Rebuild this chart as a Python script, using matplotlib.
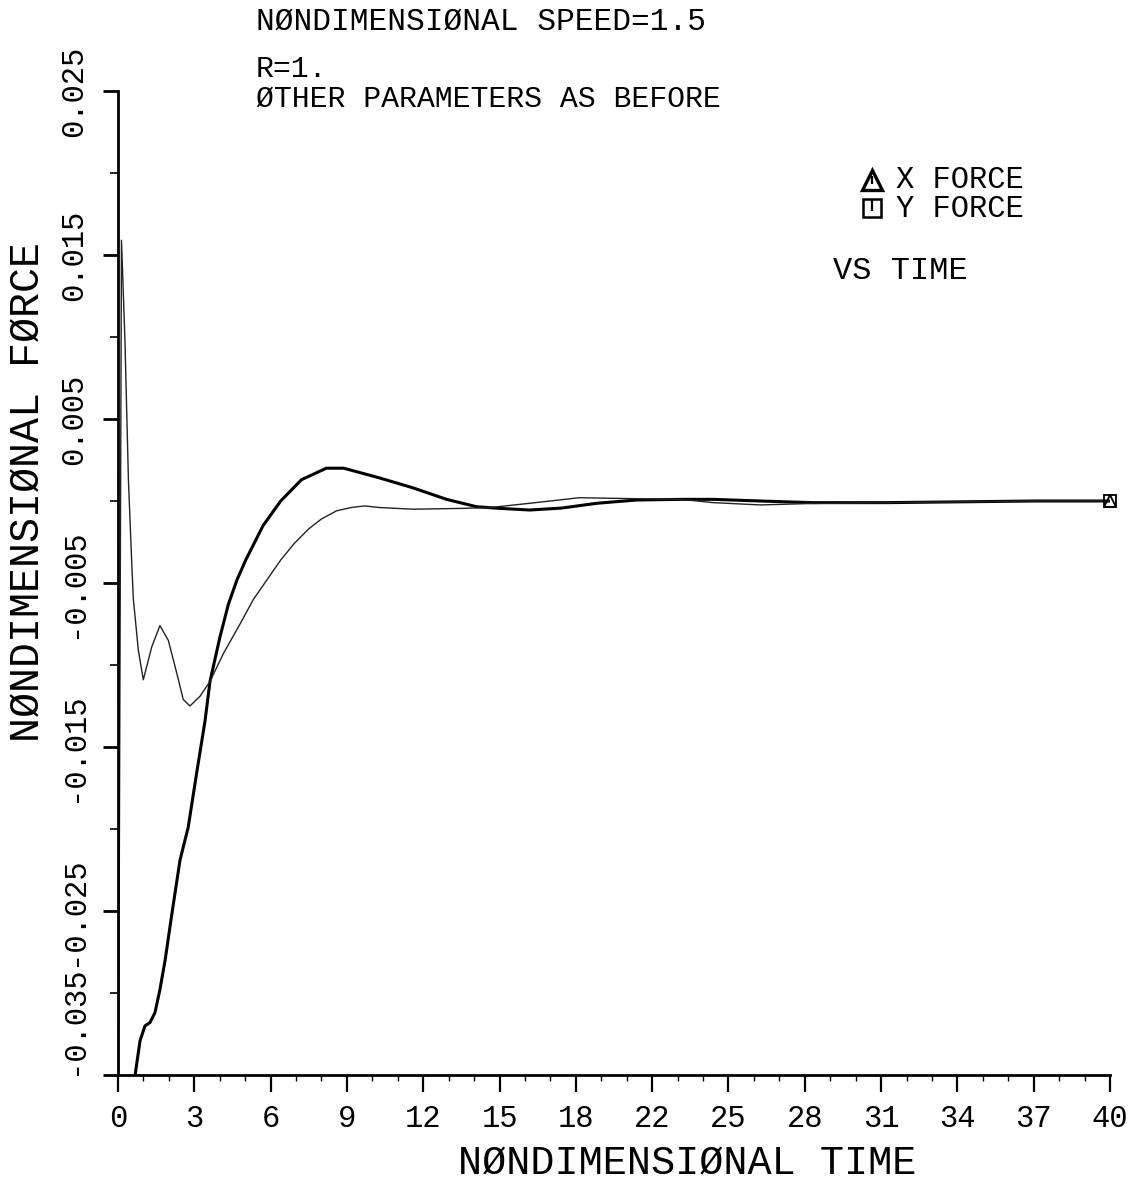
import matplotlib
matplotlib.use("Agg")
import matplotlib.pyplot as plt
from matplotlib.lines import Line2D
import numpy as np

# X force (heavy curve): nondimensional time and force
t_x = [0.0, 0.62, 0.69, 0.89, 1.09, 1.29, 1.49, 1.69, 1.90, 2.16, 2.50, 2.83,
       3.17, 3.51, 3.71, 4.11, 4.45, 4.80, 5.15, 5.85, 6.56, 7.40, 8.40, 9.10,
       10.2, 10.56, 11.9, 13.25, 14.46, 15.4, 16.6, 17.9, 19.3, 20.9, 22.7,
       24.0, 25.9, 28.0, 31.0, 34.0, 37.0, 40.0]
f_x = [-0.045, -0.040, -0.035, -0.0329, -0.0320, -0.0318, -0.0312, -0.0298,
       -0.0280, -0.0253, -0.0219, -0.0199, -0.0166, -0.0134, -0.0110, -0.0083,
       -0.0063, -0.0048, -0.0036, -0.0015, 0.0000, 0.0013, 0.0020, 0.0020,
       0.00155, 0.0014, 0.0008, 0.0001, -0.00035, -0.00045, -0.00055,
       -0.00043, -0.00014, 0.00006, 0.0001, 0.0001, 0.0, -0.0001, -0.0001,
       -0.00005, 0.0, 0.0]

# Y force (light curve)
t_y = [0.0, 0.14, 0.28, 0.42, 0.56, 0.62, 0.82, 1.02, 1.36, 1.69, 2.03, 2.37,
       2.63, 2.90, 3.31, 3.71, 4.25, 4.92, 5.46, 6.56, 7.10, 7.69, 8.20, 8.81,
       9.40, 9.94, 10.56, 11.9, 13.9, 15.0, 16.6, 18.6, 20.9, 22.7, 24.0, 25.9,
       28.0, 31.0, 34.0, 37.0, 40.0]
f_y = [-0.045, 0.0159, 0.0098, 0.0013, -0.0040, -0.0060, -0.0091, -0.0109,
       -0.0089, -0.0076, -0.0085, -0.0105, -0.0121, -0.0125, -0.0119, -0.0110,
       -0.0093, -0.0075, -0.0060, -0.0036, -0.0026, -0.0017, -0.0011, -0.0006,
       -0.0004, -0.0003, -0.0004, -0.0005, -0.00045, -0.0004, -0.00014, 0.0002,
       0.00014, 0.0001, -0.0001, -0.00024, -0.00015, -0.0001, -0.00005, 0.0,
       0.0]

x_tick_labels = ["0", "3", "6", "9", "12", "15", "18", "22", "25", "28",
                 "31", "34", "37", "40"]
y_tick_values = [0.025, 0.015, 0.005, -0.005, -0.015, -0.025, -0.035]
y_tick_labels = ["0.025", "0.015", "0.005", "-0.005", "-0.015", "-0.025",
                 "-0.035"]

plt.rcParams['font.family'] = ['Liberation Mono', 'DejaVu Sans Mono']

W, H = 1132, 1187
fig = plt.figure(figsize=(W / 100, H / 100), dpi=100)
fig.patch.set_facecolor('white')

x0, x1 = 118, 1110
y_top, y_bot = 91, 1075
ax = fig.add_axes([x0 / W, 1 - y_bot / H, (x1 - x0) / W, (y_bot - y_top) / H])

ax.plot(t_x, f_x, color='black', lw=2.2, solid_joinstyle='round',
        solid_capstyle='round')
ax.plot(t_y, f_y, color='#222222', lw=1.0)

# end-of-curve symbols
ax.plot(t_x[-1], f_x[-1], marker='^', ms=9, mfc='none', mec='black', mew=1.3,
        clip_on=False)
ax.plot(t_y[-1], f_y[-1], marker='s', ms=8, mfc='none', mec='black', mew=1.3,
        clip_on=False)

ax.set_xlim(0, 40)
ax.set_ylim(-0.035, 0.025)

for side in ['top', 'right']:
    ax.spines[side].set_visible(False)
ax.spines['left'].set_linewidth(2.0)
ax.spines['bottom'].set_linewidth(2.0)

ax.set_xticks(np.linspace(0, 40, len(x_tick_labels)))
ax.set_xticklabels(x_tick_labels, fontsize=22)
ax.set_xticks(np.linspace(0, 40, 3 * (len(x_tick_labels) - 1) + 1), minor=True)

ax.set_yticks(y_tick_values)
ax.set_yticklabels(y_tick_labels, fontsize=22, rotation=90, va='center')
ax.set_yticks(np.linspace(-0.035, 0.025, 13), minor=True)

ax.tick_params(axis='x', which='major', direction='out', length=12, width=1.6,
               pad=9)
ax.tick_params(axis='x', which='minor', direction='out', length=4, width=1.0)
ax.tick_params(axis='y', which='major', direction='out', length=11, width=2.0,
               pad=10)
ax.tick_params(axis='y', which='minor', direction='out', length=6, width=1.2)

# lowest label sits above its tick
ax.get_yticklabels()[-1].set_va('bottom')

ax.patch.set_alpha(0)


def fx(px):
    return px / W


def fy(py):
    return 1 - py / H


fig.text(fx(28), fy(492), "NØNDIMENSIØNAL FØRCE", rotation=90, ha='center',
         va='center', fontsize=30)
fig.text(fx(687), fy(1163), "NØNDIMENSIØNAL TIME", ha='center', va='center',
         fontsize=29)

fig.text(fx(256), fy(22), "NØNDIMENSIØNAL SPEED=1.5", ha='left', va='center',
         fontsize=22.5)
fig.text(fx(256), fy(69), "R=1.", ha='left', va='center', fontsize=21.5)
fig.text(fx(256), fy(99), "ØTHER PARAMETERS AS BEFORE", ha='left',
         va='center', fontsize=21.5)

# key
fig.add_artist(Line2D([fx(872)], [fy(180)], marker='^', ms=14, mfc='none',
                      mec='black', mew=2.4, transform=fig.transFigure))
fig.add_artist(Line2D([fx(872)], [fy(180)], marker='|', ms=6, mec='black',
                      mew=1.6, transform=fig.transFigure))
fig.add_artist(Line2D([fx(872)], [fy(208)], marker='s', ms=13, mfc='none',
                      mec='black', mew=1.8, transform=fig.transFigure))
fig.add_artist(Line2D([fx(872)], [fy(205)], marker='|', ms=8, mec='black',
                      mew=1.6, transform=fig.transFigure))
fig.text(fx(896), fy(180), "X FORCE", ha='left', va='center', fontsize=22)
fig.text(fx(896), fy(209), "Y FORCE", ha='left', va='center', fontsize=22)
fig.text(fx(833), fy(271), "VS TIME", ha='left', va='center', fontsize=23)

fig.savefig("out.png", dpi=100, facecolor='white')
